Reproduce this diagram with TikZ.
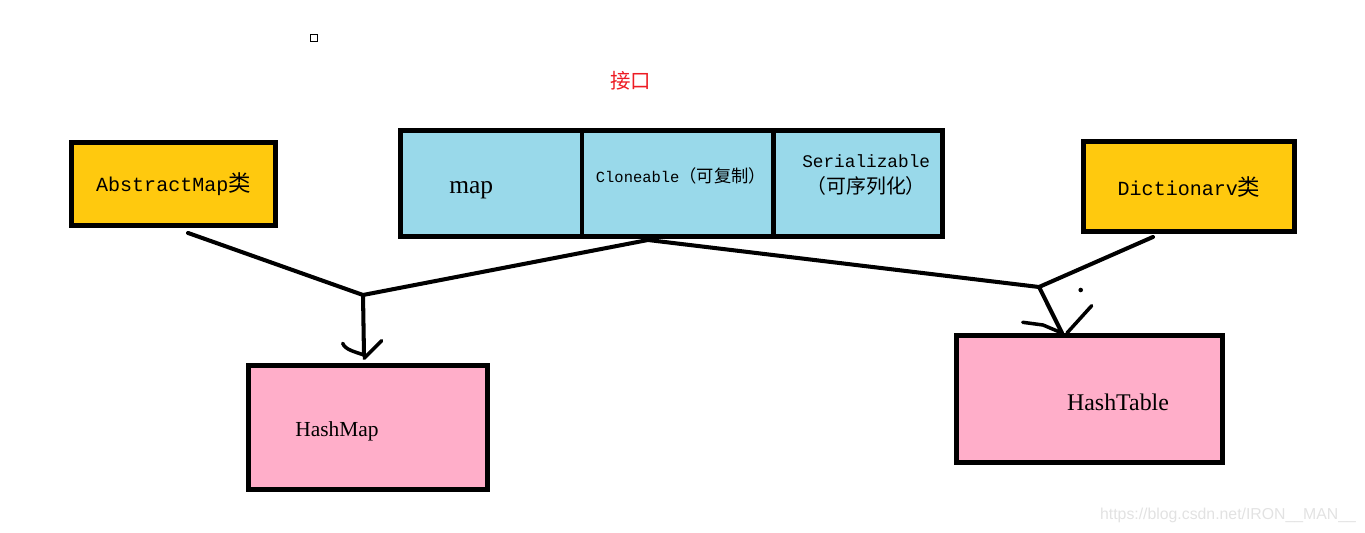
\documentclass[tikz,border=0pt]{standalone}
\usepackage{fontspec}
\setmainfont{Liberation Serif}
\setmonofont{Liberation Mono}
\newfontfamily\cjk[Scale=1.12]{Noto Sans CJK SC}
\newfontfamily\marksans{Liberation Sans}
\usetikzlibrary{positioning}

\definecolor{class fill}{RGB}{255,201,14}
\definecolor{iface fill}{RGB}{153,217,234}
\definecolor{impl fill}{RGB}{255,174,201}
\definecolor{iface red}{RGB}{237,28,36}
\definecolor{mark gray}{RGB}{226,226,226}
\tikzset{
  box/.style={draw=black, line width=2.8pt, rectangle, inner sep=0pt},
  classbox/.style={box, fill=class fill, font=\ttfamily\fontsize{11.4}{13}\selectfont},
  ifacecell/.style={box, fill=iface fill, outer sep=0pt, minimum height=2.12cm},
  implbox/.style={box, fill=impl fill},
  link/.style={draw, line width=2.3pt, line cap=round, line join=round},
  sketch/.style={draw, line width=2pt, line cap=round, line join=round}
}

\begin{document}
\begin{tikzpicture}[x=0.02cm, y=-0.02cm]
  \useasboundingbox (0,0) rectangle (1365,533);

  % classes
  \node[classbox, minimum width=4.08cm, minimum height=1.66cm] (abstractmap) at (173.5,184) {AbstractMap{\cjk 类}};
  \node[classbox, minimum width=4.22cm, minimum height=1.8cm] (dictionary) at (1189,186.5) {Dictionarv{\cjk 类}};

  % interfaces
  \node[text=iface red, font=\cjk\fontsize{10.4}{12}\selectfont] (ifacelabel) at (630.5,81) {接口};
  \node[ifacecell, minimum width=3.63cm,
        label={[xshift=-0.4cm, yshift=-0.14cm, font=\fontsize{14.5}{16}\selectfont]center:map}] (mapcell) at (491.25,183.5) {};
  \node[ifacecell, minimum width=3.84cm, right=0pt of mapcell,
        label={[xshift=0.06cm, yshift=0.15cm, font=\ttfamily\fontsize{8.8}{10}\selectfont]center:Cloneable{\cjk （可复制）}}] (clonecell) {};
  \node[ifacecell, minimum width=3.37cm, right=0pt of clonecell,
        label={[xshift=0.16cm, yshift=0.17cm, align=center, font=\ttfamily\fontsize{10.1}{14.8}\selectfont]center:Serializable\\{\cjk （可序列化）}}] (serialcell) {};

  % implementations
  \node[implbox, minimum width=4.78cm, minimum height=2.48cm,
        label={[xshift=-0.62cm, yshift=-0.07cm, font=\fontsize{12.2}{14}\selectfont]center:HashMap}] (hashmap) at (368,427.5) {};
  \node[implbox, minimum width=5.32cm, minimum height=2.54cm,
        label={[xshift=0.57cm, yshift=-0.06cm, font=\fontsize{13.6}{15}\selectfont]center:HashTable}] (hashtable) at (1089.5,399) {};

  \node[draw, line width=0.6pt, minimum size=0.13cm, inner sep=0pt] (tinybox) at (314,38) {};

  % connectors
  \coordinate (j1) at (363,295);
  \coordinate (j2) at (1039,287);
  \coordinate (hmtip) at ([xshift=-0.08cm, yshift=0.16cm]hashmap.north);
  \coordinate (httip) at ([xshift=-0.55cm]hashtable.north);
  \draw[link] ([xshift=0.29cm, yshift=-0.1cm]abstractmap.south) -- (j1)
    -- ([xshift=-0.6cm, yshift=-0.07cm]clonecell.south) -- (j2)
    -- ([xshift=-0.72cm, yshift=-0.06cm]dictionary.south);
  \draw[link] (j1) -- (hmtip);
  \draw[link] (j2) -- (httip);

  % hand drawn heads
  \draw[sketch] (342.7,343.3) .. controls (345,350) and (356,352) .. (hmtip);
  \draw[sketch] (381.7,340.7) -- (364,358.3);
  \draw[sketch] (1022.7,322.3) -- (1043,325) -- (httip);
  \draw[sketch] (1091.7,305.7) -- (1067,333);
  \fill (1080.7,290) circle (1.3pt);

  \node[text=mark gray, font=\marksans\fontsize{9}{11}\selectfont] (watermark) at (1228,515) {https://blog.csdn.net/IRON\_\_MAN\_\_};
\end{tikzpicture}
\end{document}
